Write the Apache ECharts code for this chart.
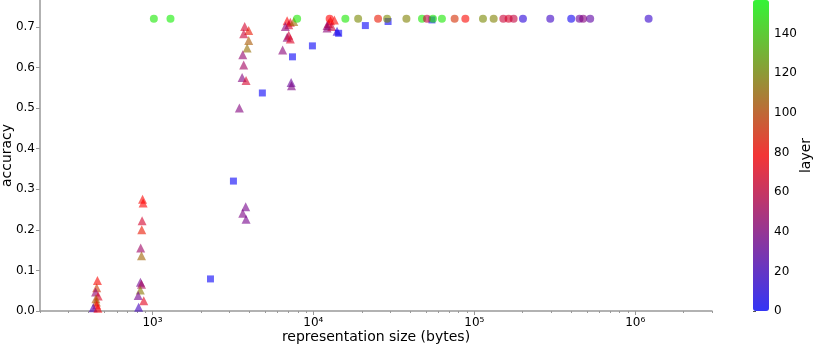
<!DOCTYPE html>
<html>
<head>
<meta charset="utf-8">
<script src="https://cdn.jsdelivr.net/npm/echarts@6/dist/echarts.min.js"></script>
<style>
  html, body { margin: 0; padding: 0; background: #fff; }
  #chart { width: 814px; height: 345px; }
</style>
</head>
<body>
<div id="chart"></div>
<script>
// each point: [representation size (bytes), accuracy, layer]
var triangles = [
  [455, 0.075, 80], [450, 0.057, 95], [443, 0.047, 45], [460, 0.037, 68],
  [445, 0.030, 105], [448, 0.022, 100], [450, 0.015, 78], [428, 0.008, 22], [458, 0.007, 75],
  [868, 0.275, 80], [875, 0.266, 78], [862, 0.222, 65], [858, 0.200, 85],
  [845, 0.155, 48], [855, 0.136, 108], [842, 0.071, 35], [855, 0.066, 52],
  [840, 0.052, 115], [815, 0.038, 35], [883, 0.025, 70], [820, 0.009, 20],
  [3741, 0.701, 65], [3963, 0.691, 85], [3687, 0.683, 62], [3963, 0.666, 105],
  [3873, 0.648, 112], [3639, 0.631, 45], [3687, 0.606, 50], [3608, 0.575, 40],
  [3816, 0.568, 65], [3467, 0.500, 40],
  [3795, 0.257, 36], [3639, 0.241, 38], [3816, 0.226, 36],
  [6870, 0.715, 78], [7190, 0.711, 72], [7030, 0.705, 65], [7550, 0.713, 110],
  [6700, 0.701, 42], [6870, 0.674, 42], [7030, 0.679, 62], [7190, 0.670, 68],
  [6440, 0.643, 42], [7270, 0.563, 32], [7310, 0.555, 38],
  [12160, 0.697, 42], [12770, 0.715, 78], [13500, 0.717, 80], [13000, 0.701, 62],
  [12400, 0.708, 65], [12160, 0.703, 45], [14030, 0.689, 15]
];
var squares = [
  [2293, 0.079, 2], [3185, 0.320, 2], [4818, 0.537, 2], [7413, 0.626, 2],
  [9862, 0.653, 2], [14350, 0.684, 2], [21040, 0.703, 2], [29110, 0.713, 2],
  [54560, 0.717, 2]
];
var circles = [
  [1020, 0.72, 150], [1294, 0.72, 152], [7925, 0.72, 150], [12620, 0.72, 78],
  [15800, 0.72, 150], [18970, 0.72, 120], [25230, 0.72, 85], [28720, 0.72, 120],
  [37850, 0.72, 118], [47300, 0.72, 150], [50830, 0.72, 60], [55350, 0.72, 150],
  [62930, 0.72, 150], [75460, 0.72, 92], [87970, 0.72, 80], [113200, 0.72, 120],
  [131900, 0.72, 118], [151500, 0.72, 62], [163400, 0.72, 66], [175500, 0.72, 60],
  [200600, 0.72, 12], [296500, 0.72, 18], [400000, 0.72, 4], [450600, 0.72, 33],
  [475000, 0.72, 40], [525000, 0.72, 28], [1211000, 0.72, 16]
];

var xMajorTicks = [1e3, 1e4, 1e5, 1e6];
var xMinorTicks = [
  200, 300, 400, 500, 600, 700, 800, 900,
  2000, 3000, 4000, 5000, 6000, 7000, 8000, 9000,
  2e4, 3e4, 4e4, 5e4, 6e4, 7e4, 8e4, 9e4,
  2e5, 3e5, 4e5, 5e5, 6e5, 7e5, 8e5, 9e5,
  2e6, 3e6
];
var yTicks = [0, 0.1, 0.2, 0.3, 0.4, 0.5, 0.6, 0.7];
var layerTicks = [0, 20, 40, 60, 80, 100, 120, 140];

var font = 'DejaVu Sans';
var axisGray = '#999';
var supDigits = { 3: '³', 4: '⁴', 5: '⁵', 6: '⁶' };

var chart = echarts.init(document.getElementById('chart'));

chart.setOption({
  animation: false,
  textStyle: { fontFamily: font },
  grid: [
    { left: 40, right: 102, top: 0, bottom: 34, outerBoundsMode: 'none', containLabel: false },
    // colorbar axis
    { left: 753, width: 16, top: 0, height: 311, outerBoundsMode: 'none', containLabel: false }
  ],
  xAxis: [{
    type: 'log',
    logBase: 10,
    min: 200,
    max: 3e6,
    position: 'bottom',
    name: 'representation size (bytes)',
    nameLocation: 'middle',
    nameGap: 19,
    nameMoveOverlap: false,
    nameTextStyle: { fontSize: 14, color: '#000', fontFamily: font },
    axisLine: { lineStyle: { color: axisGray, width: 1.5 } },
    axisTick: { customValues: xMajorTicks, length: 4, lineStyle: { color: axisGray } },
    axisLabel: {
      customValues: xMajorTicks,
      margin: 6,
      fontSize: 12,
      color: '#000',
      fontFamily: font,
      formatter: function (v) {
        return '10' + supDigits[Math.round(Math.log10(v))];
      }
    },
    splitLine: { show: false }
  }, {
    // minor ticks only
    type: 'log',
    logBase: 10,
    min: 200,
    max: 3e6,
    position: 'bottom',
    axisLine: { show: false },
    axisTick: { customValues: xMinorTicks, length: 2, lineStyle: { color: axisGray } },
    axisLabel: { show: false },
    splitLine: { show: false }
  }, {
    gridIndex: 1,
    type: 'value',
    show: false
  }],
  yAxis: [{
    type: 'value',
    min: 0,
    max: 0.766,
    name: 'accuracy',
    nameLocation: 'middle',
    nameGap: 26,
    nameMoveOverlap: false,
    nameTextStyle: { fontSize: 14, color: '#000', fontFamily: font },
    axisLine: { show: true, lineStyle: { color: axisGray, width: 1.5 } },
    axisTick: { show: true, customValues: yTicks, length: 4, lineStyle: { color: axisGray } },
    axisLabel: {
      customValues: yTicks,
      margin: 5,
      fontSize: 12,
      color: '#000',
      fontFamily: font,
      formatter: function (v) { return v.toFixed(1); }
    },
    splitLine: { show: false }
  }, {
    gridIndex: 1,
    type: 'value',
    position: 'right',
    min: 0,
    max: 157,
    name: 'layer',
    nameLocation: 'middle',
    nameRotate: 90,
    nameGap: 30,
    nameMoveOverlap: false,
    nameTextStyle: { fontSize: 14, color: '#000', fontFamily: font },
    axisLine: { show: false },
    axisTick: { show: true, customValues: layerTicks, length: 3, lineStyle: { color: '#555' } },
    axisLabel: {
      customValues: layerTicks,
      margin: 5,
      fontSize: 12,
      color: '#000',
      fontFamily: font
    },
    splitLine: { show: false }
  }],
  visualMap: {
    type: 'continuous',
    min: 0,
    max: 157,
    dimension: 2,
    seriesIndex: [0, 1, 2],
    calculable: false,
    hoverLink: false,
    orient: 'vertical',
    left: 753,
    top: 0,
    padding: 0,
    itemWidth: 16,
    itemHeight: 311,
    indicatorSize: 0,
    inRange: {
      color: ['#0000ff', '#ff0000', '#00ff00'],
      colorAlpha: 0.75
    }
  },
  series: [{
    name: 'triangles',
    type: 'scatter',
    symbol: 'triangle',
    symbolSize: 9,
    data: triangles
  }, {
    name: 'squares',
    type: 'scatter',
    symbol: 'rect',
    symbolSize: 7,
    data: squares
  }, {
    name: 'circles',
    type: 'scatter',
    symbol: 'circle',
    symbolSize: 8,
    data: circles
  }]
});
</script>
</body>
</html>
